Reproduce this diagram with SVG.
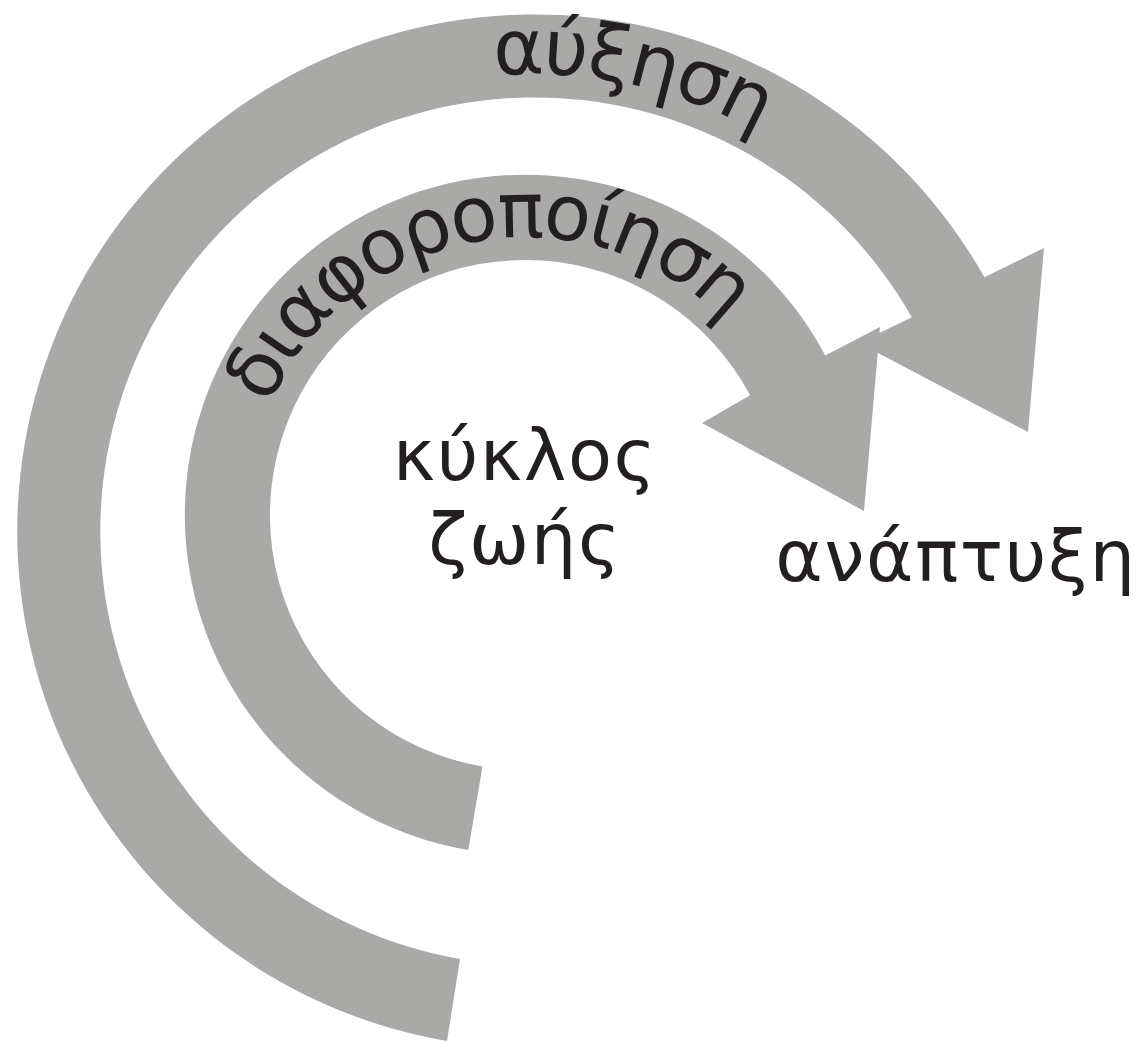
<svg xmlns="http://www.w3.org/2000/svg" width="1138" height="1042" viewBox="0 0 1138 1042">
<style>
.band{fill:#a9a9a8;stroke:none}
.t{font-family:"DejaVu Sans","Liberation Sans",sans-serif;fill:#231f20}
</style>
<defs>
<path id="outerText" d="M 77 531 A 457 457 0 0 1 991 531"/>
<path id="innerText" d="M 247 515 A 278 278 0 0 1 803 515"/>
</defs>
<rect width="1138" height="1042" fill="#ffffff"/>
<g id="connectors">
<path id="arrow-outer" class="band" d="M 447 1041 A 517 517 0 1 1 984.4 277.2 L 1044 248 L 1028 432 L 859 343 L 911.8 317.3 A 434 434 0 1 0 460 959 Z"/>
<path id="arrow-inner" class="band" d="M 468.3 850 A 340 340 0 1 1 825.2 355.4 L 880 327 L 864 511 L 702 423 L 750.1 395.3 A 255 255 0 1 0 482.5 766.4 Z"/>
</g>
<g id="label-auxisi">
<text class="t" font-size="77" letter-spacing="-2" text-anchor="middle"><textPath href="#outerText" startOffset="814">αύξηση</textPath></text>
</g>
<g id="label-diaforopoiisi">
<text class="t" font-size="77" letter-spacing="-3" text-anchor="middle"><textPath href="#innerText" startOffset="385">διαφοροποίηση</textPath></text>
</g>
<g id="node-kyklos-zois">
<text class="t" font-size="72" letter-spacing="1.5" text-anchor="middle" x="525" y="480">κύκλος</text>
<text class="t" font-size="72" letter-spacing="1.5" text-anchor="middle" x="525" y="564">ζωής</text>
</g>
<g id="node-anaptyxi">
<text class="t" font-size="72" letter-spacing="1.5" text-anchor="middle" x="956" y="581">ανάπτυξη</text>
</g>
</svg>
